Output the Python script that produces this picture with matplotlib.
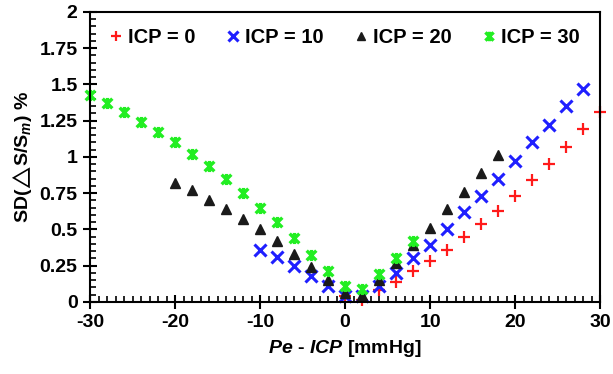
import matplotlib.pyplot as plt
from matplotlib.path import Path
from matplotlib.ticker import MultipleLocator

plt.rcParams['font.family'] = ['Liberation Sans', 'DejaVu Sans']
plt.rcParams['font.weight'] = 'bold'
plt.rcParams['axes.unicode_minus'] = False
plt.rcParams['mathtext.fontset'] = 'custom'
plt.rcParams['mathtext.rm'] = 'Liberation Sans:bold'
plt.rcParams['mathtext.it'] = 'Liberation Sans:bold:italic'
plt.rcParams['mathtext.bf'] = 'Liberation Sans:bold'

# data
x_icp0 = [0, 2, 4, 6, 8, 10, 12, 14, 16, 18, 20, 22, 24, 26, 28, 30]
y_icp0 = [0.04, 0.01, 0.08, 0.14, 0.21, 0.28, 0.36, 0.45, 0.54, 0.63, 0.73, 0.84, 0.95, 1.07, 1.19, 1.31]

x_icp10 = [-10, -8, -6, -4, -2, 0, 2, 4, 6, 8, 10, 12, 14, 16, 18, 20, 22, 24, 26, 28]
y_icp10 = [0.36, 0.31, 0.25, 0.18, 0.11, 0.04, 0.04, 0.11, 0.20, 0.30, 0.39, 0.50, 0.62, 0.73, 0.85, 0.97,
           1.10, 1.22, 1.35, 1.47]

x_icp20 = [-20, -18, -16, -14, -12, -10, -8, -6, -4, -2, 0, 2, 4, 6, 8, 10, 12, 14, 16, 18]
y_icp20 = [0.82, 0.77, 0.70, 0.64, 0.57, 0.50, 0.42, 0.33, 0.24, 0.15, 0.06, 0.05, 0.15, 0.27, 0.39, 0.51,
           0.64, 0.76, 0.89, 1.01]

x_icp30 = [-30, -28, -26, -24, -22, -20, -18, -16, -14, -12, -10, -8, -6, -4, -2, 0, 2, 4, 6, 8]
y_icp30 = [1.43, 1.37, 1.31, 1.24, 1.17, 1.10, 1.02, 0.94, 0.85, 0.75, 0.65, 0.55, 0.44, 0.32, 0.21, 0.11,
           0.09, 0.19, 0.30, 0.42]

labels = ['ICP = 0', 'ICP = 10', 'ICP = 20', 'ICP = 30']

# excel-like star marker: x with a vertical bar
star = Path([(-1, -1), (1, 1), (-1, 1), (1, -1), (0, -1.15), (0, 1.15)],
            [Path.MOVETO, Path.LINETO, Path.MOVETO, Path.LINETO, Path.MOVETO, Path.LINETO])

fig = plt.figure(figsize=(6.13, 3.74), dpi=100)
ax = fig.add_axes([0.147, 0.193, 0.832, 0.775])

ax.plot(x_icp0, y_icp0, ls='none', marker='+', ms=9, mew=1.6, color='#ff1a1a', label=labels[0], clip_on=False)
ax.plot(x_icp10, y_icp10, ls='none', marker='x', ms=8, mew=2.2, color='#1f1fff', label=labels[1], clip_on=False)
ax.plot(x_icp20, y_icp20, ls='none', marker='^', ms=7.5, color='#1a1a1a', label=labels[2], clip_on=False)
ax.plot(x_icp30, y_icp30, ls='none', marker=star, ms=8, mew=2.4, color='#22ee22', label=labels[3], clip_on=False)

ax.set_xlim(-30, 30)
ax.set_ylim(0, 2)
ax.xaxis.set_major_locator(MultipleLocator(10))
ax.xaxis.set_minor_locator(MultipleLocator(1))
ax.yaxis.set_minor_locator(MultipleLocator(0.05))
ax.set_yticks([0, 0.25, 0.5, 0.75, 1, 1.25, 1.5, 1.75, 2])
ax.set_yticklabels(['0', '0.25', '0.5', '0.75', '1', '1.25', '1.5', '1.75', '2'])

ax.tick_params(which='major', direction='inout', length=10, width=1.5, labelsize=14, pad=4)
ax.tick_params(which='minor', direction='in', length=4, width=1.2)
for s in ax.spines.values():
    s.set_linewidth(1.5)

ax.set_xlabel(r'$\mathit{Pe}$ - $\mathit{ICP}$ [mmHg]', fontsize=14, fontweight='bold', labelpad=5)
ax.set_ylabel(r'SD($\!\triangle\!$S/S$_{\mathit{m}}$) %', fontsize=14, fontweight='bold', labelpad=4)

leg = ax.legend(loc='upper center', bbox_to_anchor=(0.5, 1.0), ncol=4, frameon=False,
                fontsize=14.5, handlelength=0.6, handletextpad=0.3, columnspacing=1.55,
                markerscale=0.85, borderaxespad=0.4)

fig.savefig('out.png', dpi=100)
